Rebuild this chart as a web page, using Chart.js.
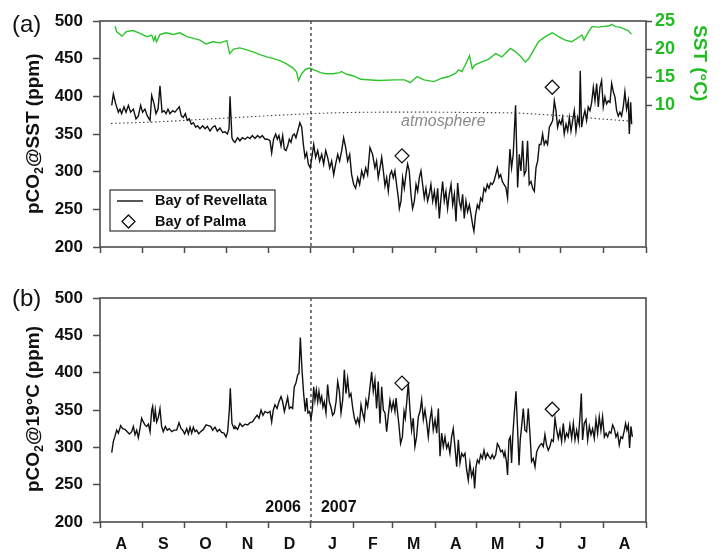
<!DOCTYPE html>
<html>
<head>
<meta charset="utf-8">
<script src="https://cdn.jsdelivr.net/npm/chart.js@4.4.1/dist/chart.umd.min.js"></script>
<style>
  html, body { margin: 0; padding: 0; background: #fff; }
  #wrap { position: relative; width: 724px; height: 554px; }
  canvas { position: absolute; left: 0; }
  #panelA { top: 0; }
  #panelB { top: 277px; }
</style>
</head>
<body>
<div id="wrap">
  <canvas id="panelA" width="724" height="277"></canvas>
  <canvas id="panelB" width="724" height="277"></canvas>
</div>
<script>
// ---- Time axis: days since 1 Aug 2006 ----
const monthStarts = [0, 31, 61, 92, 122, 153, 184, 212, 243, 273, 304, 334, 365, 396];
const monthLetters = ['A', 'S', 'O', 'N', 'D', 'J', 'F', 'M', 'A', 'M', 'J', 'J', 'A'];
const yearBreakDay = 153;            // 1 Jan 2007
const yearLabels = ['2006', '2007'];
const pco2Ticks = [200, 250, 300, 350, 400, 450, 500];
const sstTicks = [10, 15, 20, 25];

// ---- Bay of Revellata, pCO2 at in situ temperature (ppm) ----
const revDaysA = [8.5,9.7,11.4,13.3,14.5,15.7,17.4,18.9,20.6,22.2,24.2,26.1,27.8,29.5,30.9,32.6,34.3,36.3,37.5,39.2,40.6,42.1,43.5,45,46.4,47.9,49.3,50.8,52.7,54.4,56.1,57.5,59,60.4,61.9,63.3,64.8,66.2,67.7,69.4,70.8,72.5,74.5,76.2,77.9,79.8,81.7,83.4,85.1,87,89,90.7,92.4,93.6,94.3,95.7,96.7,
  97.9,99.8,101.5,103.2,105.2,107.1,108.8,110.5,112.4,114.3,116,117.7,119.7,121.6,123.3,124.5,125.9,127.4,128.6,129.8,131.3,132.5,133.7,134.9,136.1,137.3,138.5,139.7,140.9,142.1,143.4,145,146.3,147.5,148.7,149.9,151.1,152.5,154,155,156.4,157.9,159.3,160.8,162.2,163.7,165.1,166.6,168,169.5,170.9,172.4,173.8,175.3,176.7,178.2,179.6,181.1,182.5,184,185.4,186.9,188.3,189.8,191.2,192.7,194.1,
  195.8,197.7,199.4,200.6,201.8,203.1,204.3,205.5,206.7,207.9,209.1,210.3,211.5,212.7,213.9,215.1,216.4,217.1,218.3,219.5,220.7,221.9,223.1,224.3,225.5,226.7,228,229.2,230.4,231.6,232.8,234,235.2,236.4,237.6,238.8,240,241.3,242.5,243.7,244.9,246.1,247.3,248.5,249.7,250.9,252.1,253.3,254.6,255.8,257,258.2,259.4,260.6,261.8,263,264.2,265.4,266.6,267.9,269.1,270.3,271.2,272.4,273.7,274.9,276.1,277.3,278.5,279.7,280.9,282.1,283.3,284.5,285.7,287,288.2,289.4,290.6,291.8,293,
  294.4,295.6,297.3,298.5,299.7,301.4,302.9,304.1,305.3,306.5,307.7,308.9,310.1,311.3,312.6,313.8,315,316.2,317.4,318.6,319.8,321,322.2,323.4,324.6,325.9,327.1,328.3,329.5,330.7,331.9,333.1,334.3,335.5,336.7,338,339.2,340.4,341.6,342.8,344,345.2,346.4,347.6,348.3,349.3,350.5,351.7,352.9,354.1,355.4,356.6,357.8,359,360.2,361.4,362.6,363.8,365,366.2,367.4,368.6,369.9,371.1,372.3,373.5,374.7,375.9,377.1,378.3,379.5,380.7,381.9,383.2,383.9,384.9,385.6];
const revPco2SST = [388,403,390,379,383,377,386,379,388,379,383,370,374,388,379,383,374,368,401,390,377,383,414,379,381,377,383,377,381,379,383,386,374,372,377,368,370,363,365,359,361,357,361,357,360,354,359,361,354,358,352,353,350,357,400,345,341,
  339,345,341,345,343,346,344,348,344,348,345,348,343,343,341,325,343,350,343,348,334,348,330,328,334,343,339,348,350,345,354,365,359,336,319,325,310,305,323,336,319,328,314,323,310,328,319,305,314,296,310,323,314,328,345,332,314,323,296,283,278,292,283,301,292,305,296,
  332,323,305,314,292,305,319,301,281,292,274,296,301,292,301,283,265,251,261,292,278,296,310,301,270,251,261,283,274,292,301,283,265,278,261,270,283,261,274,256,278,238,265,287,261,274,251,270,283,256,270,234,285,261,251,270,238,261,247,256,243,229,221,243,256,251,265,261,278,274,283,278,285,283,287,296,305,292,296,287,283,
  279,265,330,305,323,388,279,323,301,341,296,301,341,283,287,278,274,305,314,336,336,350,336,341,336,359,363,368,394,381,359,368,363,372,350,363,354,372,354,368,381,354,372,363,434,359,372,381,368,386,381,392,412,394,417,386,412,421,386,399,390,394,392,417,406,399,381,374,379,374,386,406,383,394,350,392,363];

// ---- Bay of Revellata, pCO2 normalised to 19 °C (ppm) ----
const revDaysB = [8.5,9.7,10.9,12.1,13.3,15,16.4,18.1,19.8,21.3,23,24.2,25.4,26.6,27.8,29,30.2,31.4,32.6,33.8,35.1,36.3,37.5,38.2,39.2,40.1,41.1,42.3,43.5,44.7,45.9,47.4,48.8,50.3,52,53.7,55.6,57.3,58.8,60,61.4,62.9,64.1,65.3,66.5,67.7,68.9,70.1,71.6,73,75,76.9,78.6,80.3,81.7,83.4,85.1,86.6,88.2,89.9,91.4,92.6,93.8,94.5,95.7,97.2,
  97.9,99.8,101.5,103.2,105.2,107.1,108.8,110.5,112.4,113.9,115.3,116.8,118.2,119.7,121.6,123.3,124.5,125.7,126.9,128.4,129.8,131.3,132.5,133.7,134.9,136.1,137.3,138.5,139.7,140.9,142.1,143.4,144.3,145.3,146.5,147.7,148.9,149.9,150.8,152,153,154,155,155.9,156.9,157.9,158.8,159.8,160.8,161.7,162.7,163.9,165.1,166.3,167.5,168.7,169.9,171.2,172.4,173.6,174.8,176,177.2,178.4,179.6,180.8,182,183.2,184.5,185.7,186.9,188.1,189.3,190.5,191.7,192.9,194.1,195.3,
  197,198.2,199.4,200.6,201.8,203.1,204.3,205.5,206.7,207.9,209.1,210.3,211.5,212.7,213.9,214.7,215.6,216.8,218,219.3,220.5,221.4,222.4,223.6,224.8,226,227.2,228.4,229.6,230.9,232.1,233.3,234.5,235.7,236.9,238.1,239.3,240.5,241.7,243,244.2,245.4,246.6,247.8,249,250.2,251.4,252.6,253.8,255,256.2,257.5,258.7,259.9,261.1,262.3,263.5,264.7,265.9,267.1,268.3,269.5,270.8,271.7,272.7,273.7,274.9,276.1,277.3,278.5,279.7,280.9,282.1,283.3,284.5,285.7,287,288.2,289.4,290.6,291.8,293,
  293.7,294.9,295.6,296.6,297.6,298.5,299.5,300.5,301.7,302.9,303.9,304.8,305.8,307,308.2,309.4,310.6,311.8,313,314.2,315.5,316.7,317.9,319.1,320.3,321.5,322.7,323.9,325.1,326.3,327.5,328.8,330,331.2,332.4,333.6,334.8,336,337.2,338.4,339.6,340.8,342.1,343.3,344.5,345.7,346.9,348.1,349.1,350,351.2,352.5,353.7,354.9,356.1,357.3,358.5,359.7,360.9,362.1,363.3,364.5,365.8,367,368.2,369.4,370.6,371.8,373,374.2,375.4,376.6,377.8,379,380.3,381.2,382.2,383.2,384.1,385.1,386.1];
const revPco2At19 = [293,308,315,323,319,329,325,324,321,318,321,328,317,323,313,325,339,334,330,328,331,321,350,355,334,350,334,340,352,328,321,328,323,325,321,323,323,333,325,323,318,325,318,327,319,327,321,323,318,321,324,330,329,328,323,327,321,324,320,319,314,321,350,379,332,325,
  328,324,332,328,331,330,333,334,339,343,339,350,343,348,346,348,334,350,357,352,361,368,361,348,357,367,352,354,352,381,386,397,399,447,404,372,348,366,346,348,338,350,381,363,377,361,375,361,368,354,361,346,384,361,354,343,346,361,388,375,346,363,404,372,392,368,372,354,339,332,339,330,357,346,337,363,354,372,
  401,375,390,352,388,332,381,350,346,321,343,363,350,361,348,366,350,330,305,314,348,339,359,386,350,323,339,301,314,341,348,364,337,350,334,314,337,350,323,337,319,352,288,319,301,314,299,305,292,314,325,299,274,310,279,292,288,292,270,256,279,261,270,245,274,283,279,290,285,296,285,292,288,285,290,285,290,305,301,294,296,288,
  294,279,263,310,314,279,319,346,375,323,276,310,328,352,323,321,352,319,281,285,274,294,299,303,305,301,317,303,296,301,310,308,339,323,312,323,308,332,310,319,314,330,312,332,310,323,310,341,372,310,332,337,310,328,317,325,312,337,319,341,323,341,314,319,314,321,319,330,325,314,319,303,314,312,323,332,323,330,299,328,314];

// ---- Bay of Palma discrete samples ----
const palmaDays = [219, 328];
const palmaPco2SST = [321, 412];
const palmaPco2At19 = [386, 351];

// ---- Atmospheric pCO2 (ppm) ----
const atmDays = [8, 40, 70, 100, 130, 153, 180, 210, 240, 270, 300, 320, 340, 360, 385];
const atmPco2 = [364, 366, 369, 372, 375, 377, 378.5, 379, 379, 378.5, 378, 376, 373.5, 370.5, 367];

// ---- Sea surface temperature (°C) ----
const sstDays = [11,12,16,19,24,29,34,37.5,39,40,41,43.5,48,53,58,63,68,72.5,77,82,87,92,94,97,101.5,106,111,116,121,126,131,135,140,142.6,144,146,149,152,156,160,164,169,174,175,179,184,189,
  202,214,221,225,230,235,242,248,253,258,260,262.5,265,268,270,272,277,282,287,291.5,294,297.6,301,305,308.5,311,314.5,318,323,328,332.6,337.5,342,346,349.6,351,354.4,356.8,362,364,369,371,374,377,381,383,385.4];
const sstValues = [24.1,23.1,22.3,23.1,23.3,22.8,22.2,22.5,21.5,22.2,21.3,22.6,22.9,22.6,22.9,22.2,21.9,21.6,20.9,21.3,21.1,21.5,19.2,20.0,20.2,19.9,19.5,19.0,18.6,18.3,17.9,17.4,16.6,15.9,14.4,15.5,16.4,16.6,16.2,15.8,15.6,15.6,15.8,16.0,15.5,15.2,14.6,
  14.4,14.5,14.5,14.0,15.1,14.5,14.2,14.8,15.1,15.7,16.3,16.0,17.2,18.8,16.5,17.2,17.7,18.2,19.2,18.6,19.2,20.1,19.6,18.7,17.7,18.3,19.8,21.3,22.2,22.9,22.2,21.6,21.3,21.9,22.5,21.6,23.1,24.0,23.9,24.0,24.1,24.4,24.0,23.9,23.5,23.3,22.7];

// ---- Styling ----
const FONT = "'Liberation Sans', Arial, Helvetica, sans-serif";
const INK = '#111111';
const FRAME = '#4d4d4d';
const GREEN = '#2cc52c';
const GREEN_TEXT = '#22bb22';

const xy = (xs, ys) => xs.map((x, i) => ({ x: x, y: ys[i] }));

const monthMids = monthLetters.map((_, i) => (monthStarts[i] + monthStarts[i + 1]) / 2);
const midLabel = new Map(monthMids.map((m, i) => [m, monthLetters[i]]));
const boundarySet = new Set(monthStarts);
const xTickValues = monthStarts.concat(monthMids).sort((a, b) => a - b);

function timeAxis(showLabels, height) {
  return {
    type: 'linear',
    position: 'bottom',
    min: monthStarts[0],
    max: monthStarts[monthStarts.length - 1],
    afterBuildTicks: s => { s.ticks = xTickValues.map(v => ({ value: v })); },
    afterFit: s => { s.height = height; },
    border: { display: false },
    grid: {
      drawOnChartArea: false,
      drawTicks: true,
      tickLength: 6,
      tickWidth: 1.5,
      tickColor: c => (c.tick && boundarySet.has(c.tick.value)) ? FRAME : 'rgba(0,0,0,0)'
    },
    ticks: {
      display: showLabels,
      autoSkip: false,
      maxRotation: 0,
      minRotation: 0,
      padding: 7,
      color: INK,
      font: { family: FONT, size: 16, weight: 'bold' },
      callback: v => midLabel.has(v) ? midLabel.get(v) : ''
    }
  };
}

function pco2Axis() {
  return {
    type: 'linear',
    position: 'left',
    min: pco2Ticks[0],
    max: pco2Ticks[pco2Ticks.length - 1],
    afterBuildTicks: s => { s.ticks = pco2Ticks.map(v => ({ value: v })); },
    afterFit: s => { s.width = 100; },
    border: { display: false },
    grid: { drawOnChartArea: false, drawTicks: true, tickLength: 7, tickWidth: 1.5, tickColor: FRAME },
    ticks: { padding: 10, color: INK, font: { family: FONT, size: 17, weight: 'bold' } }
  };
}

// Draws the frame, the year divider, panel letter, axis titles and in-plot annotations.
function panelDecor(cfg) {
  return {
    id: 'panelDecor',
    afterDraw(chart) {
      const { ctx, chartArea: a, scales } = chart;
      const xs = scales.x;
      ctx.save();

      // year divider
      const xb = xs.getPixelForValue(yearBreakDay);
      ctx.strokeStyle = '#222';
      ctx.lineWidth = 1.2;
      ctx.setLineDash([3, 3]);
      ctx.beginPath();
      ctx.moveTo(xb, a.top);
      ctx.lineTo(xb, a.bottom);
      ctx.stroke();
      ctx.setLineDash([]);

      // frame
      ctx.strokeStyle = FRAME;
      ctx.lineWidth = 1.6;
      ctx.strokeRect(a.left, a.top, a.right - a.left, a.bottom - a.top);

      // panel letter
      ctx.fillStyle = INK;
      ctx.font = `24px ${FONT}`;
      ctx.textAlign = 'left';
      ctx.textBaseline = 'middle';
      ctx.fillText(cfg.letter, 12, cfg.letterY);

      // left title with subscript, reading upward from near the bottom of the axis
      const big = `bold 19px ${FONT}`;
      const small = `bold 12.5px ${FONT}`;
      ctx.save();
      ctx.translate(34, a.bottom - cfg.titleInset);
      ctx.rotate(-Math.PI / 2);
      let cx = 0;
      ctx.textAlign = 'left';
      ctx.textBaseline = 'middle';
      cfg.titleParts.forEach(p => {
        ctx.font = p.sub ? small : big;
        ctx.fillText(p.t, cx, p.sub ? 6 : 0);
        cx += ctx.measureText(p.t).width;
      });
      ctx.restore();

      if (cfg.years) {
        ctx.font = `bold 16px ${FONT}`;
        ctx.fillStyle = INK;
        ctx.textBaseline = 'middle';
        ctx.textAlign = 'right';
        ctx.fillText(yearLabels[0], xb - 10, a.bottom - 14);
        ctx.textAlign = 'left';
        ctx.fillText(yearLabels[1], xb + 10, a.bottom - 14);
      }

      if (cfg.extras) {
        const ys = scales.y;
        // atmosphere label
        ctx.font = `italic 16px ${FONT}`;
        ctx.fillStyle = '#8a8a8a';
        ctx.textAlign = 'center';
        ctx.textBaseline = 'middle';
        ctx.fillText('atmosphere', xs.getPixelForValue(249), ys.getPixelForValue(366));

        // SST title (right)
        ctx.save();
        ctx.translate(699, a.top + 4);
        ctx.rotate(Math.PI / 2);
        ctx.font = `bold 19px ${FONT}`;
        ctx.fillStyle = GREEN_TEXT;
        ctx.textAlign = 'left';
        ctx.textBaseline = 'middle';
        ctx.fillText('SST (°C)', 0, 0);
        ctx.restore();

        // legend
        const lx = a.left + 10, ly = a.bottom - 57, lw = 165, lh = 41;
        ctx.fillStyle = '#fff';
        ctx.fillRect(lx, ly, lw, lh);
        ctx.strokeStyle = '#333';
        ctx.lineWidth = 1.2;
        ctx.strokeRect(lx, ly, lw, lh);
        ctx.strokeStyle = INK;
        ctx.lineWidth = 1.4;
        ctx.beginPath();
        ctx.moveTo(lx + 7, ly + 11);
        ctx.lineTo(lx + 33, ly + 11);
        ctx.stroke();
        const dx = lx + 18.5, dy = ly + 31.5, r = 6.5;
        ctx.lineWidth = 1.3;
        ctx.beginPath();
        ctx.moveTo(dx, dy - r); ctx.lineTo(dx + r, dy); ctx.lineTo(dx, dy + r); ctx.lineTo(dx - r, dy); ctx.closePath();
        ctx.stroke();
        ctx.font = `bold 14.5px ${FONT}`;
        ctx.fillStyle = INK;
        ctx.textAlign = 'left';
        ctx.textBaseline = 'middle';
        ctx.fillText('Bay of Revellata', lx + 45, ly + 11);
        ctx.fillText('Bay of Palma', lx + 45, ly + 31.5);
      }
      ctx.restore();
    }
  };
}

const palmaStyle = {
  showLine: false,
  pointStyle: 'rectRot',
  pointRadius: 7,
  pointBackgroundColor: '#fff',
  pointBorderColor: INK,
  pointBorderWidth: 1.3
};

const common = {
  responsive: false,
  animation: false,
  devicePixelRatio: 1,
  events: [],
  plugins: { legend: { display: false }, tooltip: { enabled: false } },
  elements: { point: { radius: 0 }, line: { tension: 0 } }
};

// Panel (a): pCO2 at in situ temperature with SST
new Chart(document.getElementById('panelA'), {
  type: 'line',
  data: {
    datasets: [
      Object.assign({ label: 'Bay of Palma', data: xy(palmaDays, palmaPco2SST), yAxisID: 'y' }, palmaStyle),
      { label: 'Bay of Revellata', data: xy(revDaysA, revPco2SST), yAxisID: 'y', borderColor: INK, borderWidth: 1.4, pointRadius: 0 },
      { label: 'atmosphere', data: xy(atmDays, atmPco2), yAxisID: 'y', borderColor: '#444', borderWidth: 1.1, borderDash: [1.5, 2.5], cubicInterpolationMode: 'monotone', pointRadius: 0 },
      { label: 'SST', data: xy(sstDays, sstValues), yAxisID: 'ySST', borderColor: GREEN, borderWidth: 1.4, pointRadius: 0 }
    ]
  },
  options: Object.assign({}, common, {
    layout: { padding: { top: 21, left: 0, right: 0, bottom: 0 } },
    scales: {
      x: timeAxis(false, 30),
      y: pco2Axis(),
      ySST: {
        type: 'linear',
        position: 'right',
        min: -15.3,
        max: 25,
        afterBuildTicks: s => { s.ticks = sstTicks.map(v => ({ value: v })); },
        afterFit: s => { s.width = 78; },
        border: { display: false },
        grid: { drawOnChartArea: false, drawTicks: true, tickLength: 6, tickWidth: 1.5, tickColor: FRAME },
        ticks: { padding: 3, color: GREEN_TEXT, font: { family: FONT, size: 18, weight: 'bold' } }
      }
    }
  }),
  plugins: [panelDecor({
    letter: '(a)', letterY: 25, years: false, extras: true, titleInset: 33,
    titleParts: [{ t: 'pCO', sub: false }, { t: '2', sub: true }, { t: '@SST (ppm)', sub: false }]
  })]
});

// Panel (b): pCO2 normalised to 19 °C
new Chart(document.getElementById('panelB'), {
  type: 'line',
  data: {
    datasets: [
      Object.assign({ label: 'Bay of Palma', data: xy(palmaDays, palmaPco2At19) }, palmaStyle),
      { label: 'Bay of Revellata', data: xy(revDaysB, revPco2At19), borderColor: INK, borderWidth: 1.4, pointRadius: 0 }
    ]
  },
  options: Object.assign({}, common, {
    layout: { padding: { top: 21, left: 0, right: 78, bottom: 0 } },
    scales: {
      x: timeAxis(true, 32),
      y: pco2Axis()
    }
  }),
  plugins: [panelDecor({
    letter: '(b)', letterY: 22, years: true, extras: false, titleInset: 30,
    titleParts: [{ t: 'pCO', sub: false }, { t: '2', sub: true }, { t: '@19°C (ppm)', sub: false }]
  })]
});
</script>
</body>
</html>
